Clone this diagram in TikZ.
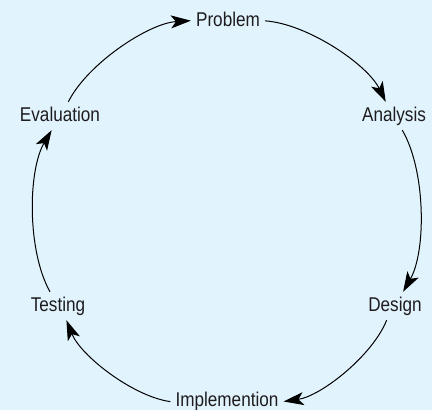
\documentclass[tikz,border=0pt]{standalone}
\usepackage{fontspec}
\setmainfont{Liberation Sans}[FakeStretch=0.86]
\usepackage{tikz}
\usetikzlibrary{arrows.meta}
\definecolor{paleblue}{RGB}{225,243,253}
\definecolor{inkgray}{RGB}{30,28,30}

\begin{document}
\begin{tikzpicture}[
  x=1bp, y=1bp,
  stage/.style={inner sep=5bp, text=inkgray, text height=14bp, text depth=4bp,
    font=\fontsize{20}{24}\selectfont},
  arr/.style={-{Stealth[length=20bp, width=13bp, inset=5bp]}, line width=1bp,
    bend left=30, looseness=0.74}
]
\fill[paleblue] (0,0) rectangle (432,410);
\useasboundingbox (0,0) rectangle (432,410);

\node[stage] (problem) at (228,389) {Problem};
\node[stage] (analysis) at (394,294) {Analysis};
\node[stage] (design) at (395,104) {Design};
\node[stage] (impl) at (227,9) {Implemention};
\node[stage] (testing) at (58,104) {Testing};
\node[stage] (eval) at (60,294) {Evaluation};

\draw[arr] (problem) to (analysis);
\draw[arr] (analysis) to (design);
\draw[arr] (design) to (impl);
\draw[arr] (impl) to (testing);
\draw[arr] (testing) to (eval);
\draw[arr] (eval) to (problem);
\end{tikzpicture}
\end{document}
